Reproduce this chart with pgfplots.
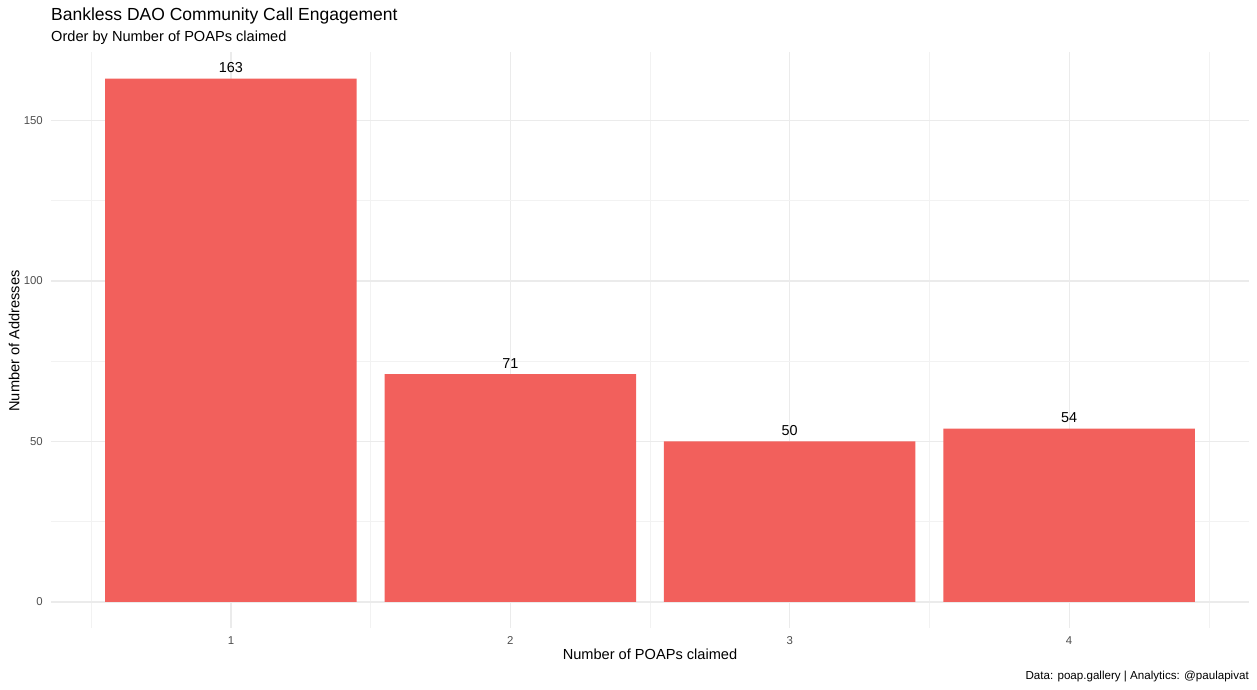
\documentclass[border=0pt]{standalone}
\usepackage{pgfplots}
\pgfplotsset{compat=1.18}
\usepackage{fontspec}
\setmainfont{Liberation Sans}
\definecolor{barred}{RGB}{242,96,92}
\definecolor{gridmaj}{RGB}{235,235,235}
\definecolor{gridmin}{RGB}{242,242,242}
\definecolor{gray30}{RGB}{77,77,77}
\begin{document}
\begin{tikzpicture}[x=1pt,y=1pt]
\path[use as bounding box] (0,0) rectangle (1257,689);
\begin{axis}[
  at={(51pt,61pt)}, anchor=south west,
  scale only axis, width=1198pt, height=576pt,
  xmin=0.356, xmax=4.644, ymin=-8.1, ymax=171.3,
  axis line style={draw=none},
  major tick length=0pt, minor tick length=0pt,
  xtick={1,2,3,4}, ytick={0,50,100,150},
  minor xtick={0.5,1.5,2.5,3.5,4.5}, minor ytick={25,75,125},
  grid=both,
  major grid style={draw=gridmaj, line width=1.2pt},
  minor grid style={draw=gridmin, line width=0.6pt},
  /pgf/number format/assume math mode=true,
  ticklabel style={font=\fontsize{11.4}{13}\selectfont, text=gray30},
  xticklabel style={anchor=base, inner sep=0pt, yshift=-16pt},
  yticklabel style={anchor=east, inner sep=0pt, xshift=-8pt},
  ybar, bar width=0.9, bar shift=0pt,
  nodes near coords,
  every node near coord/.append style={font=\fontsize{14.4}{17}\selectfont, text=black, anchor=base, inner sep=0pt, yshift=5.8pt},
]
\addplot[fill=barred, draw=none] coordinates {(1,163) (2,71) (3,50) (4,54)};
\end{axis}
\node[anchor=base west, inner sep=0pt, font=\fontsize{17.5}{20}\selectfont] at (51,668) {Bankless DAO Community Call Engagement};
\node[anchor=base west, inner sep=0pt, font=\fontsize{14.6}{17}\selectfont] at (51,647) {Order by Number of POAPs claimed};
\node[anchor=base, inner sep=0pt, font=\fontsize{14.6}{17}\selectfont] at (650,30) {Number of POAPs claimed};
\node[anchor=base, inner sep=0pt, rotate=90, font=\fontsize{14.6}{17}\selectfont] at (19.5,348) {Number of Addresses};
\node[anchor=base east, inner sep=0pt, font=\fontsize{11.6}{13}\selectfont] at (1249,10) {Data: poap.gallery | Analytics: @paulapivat};
\end{tikzpicture}
\end{document}
